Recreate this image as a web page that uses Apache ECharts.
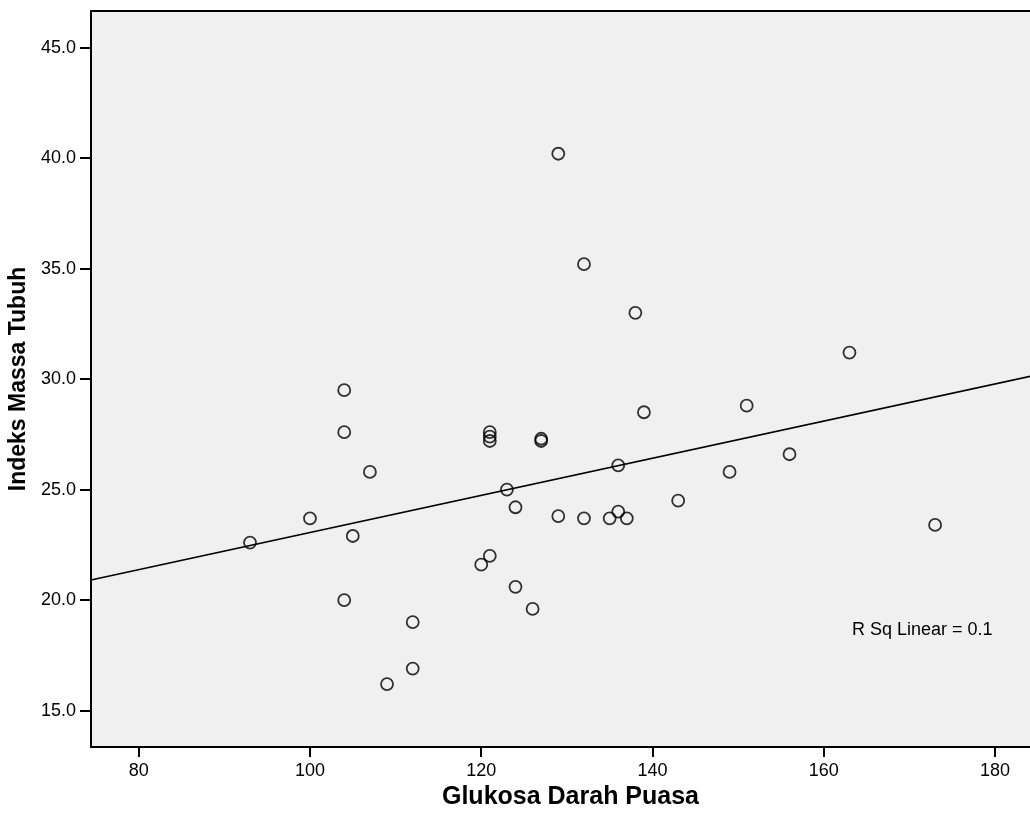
<html>
<head>
  <meta charset="utf-8">
  <title>Glukosa vs IMT</title>
  <script src="https://cdn.jsdelivr.net/npm/echarts@6/dist/echarts.min.js"></script>
</head>
<body style="margin:0;background:#fff;">
<div id="main" style="width:1030px;height:816px;"></div>
<script>
  // data
  var glukosa = [93, 100, 104, 104, 104, 105, 107, 109, 112, 112, 120, 121, 121, 121, 121, 123, 124, 124, 126, 127, 127,
    129, 129, 132, 132, 135, 136, 136, 137, 138, 139, 143, 149, 151, 156, 163, 173];
  var imt = [22.6, 23.7, 29.5, 27.6, 20.0, 22.9, 25.8, 16.2, 19.0, 16.9, 21.6, 22.0, 27.6, 27.4, 27.2, 25.0, 24.2, 20.6, 19.6, 27.3, 27.2,
    40.2, 23.8, 35.2, 23.7, 23.7, 26.1, 24.0, 23.7, 33.0, 28.5, 24.5, 25.8, 28.8, 26.6, 31.2, 23.4];
  var xTicks = [80, 100, 120, 140, 160, 180];
  var yTicks = [15, 20, 25, 30, 35, 40, 45];
  // fit line end points (linear fit, R Sq = 0.1)
  var fitX = [74.43, 186.42];
  var fitY = [20.91, 30.32];

  var points = glukosa.map(function (g, i) { return [g, imt[i]]; });
  var fitLine = fitX.map(function (x, i) { return [x, fitY[i]]; });

  var myChart = echarts.init(document.getElementById('main'));
  var option = {
    animation: false,
    grid: {
      left: 91, top: 11, right: -20, bottom: 69,
      outerBoundsMode: 'none',
      show: true,
      backgroundColor: '#f0f0f0',
      borderColor: '#000',
      borderWidth: 2
    },
    xAxis: {
      type: 'value',
      min: 74.43, max: 186.42,
      name: 'Glukosa Darah Puasa',
      nameLocation: 'middle',
      nameGap: 37,
      nameTextStyle: { color: '#000', fontSize: 25, fontWeight: 'bold', fontFamily: 'Liberation Sans, Arial' },
      axisLine: { lineStyle: { color: '#000', width: 2 } },
      axisTick: { show: true, length: 10, customValues: xTicks, lineStyle: { color: '#000', width: 2 } },
      axisLabel: { customValues: xTicks, margin: 15, color: '#000', fontSize: 18, fontFamily: 'Liberation Sans, Arial' },
      splitLine: { show: false }
    },
    yAxis: {
      type: 'value',
      min: 13.35, max: 46.66,
      name: 'Indeks Massa Tubuh',
      nameLocation: 'middle',
      nameGap: 55,
      nameTextStyle: { color: '#000', fontSize: 23, fontWeight: 'bold', fontFamily: 'Liberation Sans, Arial' },
      axisLine: { show: true, lineStyle: { color: '#000', width: 2 } },
      axisTick: { show: true, length: 11, customValues: yTicks, lineStyle: { color: '#000', width: 2 } },
      axisLabel: {
        customValues: yTicks, margin: 15, color: '#000', fontSize: 18, fontFamily: 'Liberation Sans, Arial',
        formatter: function (v) { return v.toFixed(1); }
      },
      splitLine: { show: false }
    },
    graphic: [{
      type: 'text',
      left: 852, top: 621,
      style: { text: 'R Sq Linear = 0.1', fill: '#000', fontSize: 18, fontFamily: 'Liberation Sans, Arial' }
    }],
    series: [
      {
        type: 'line',
        data: fitLine,
        showSymbol: false,
        lineStyle: { color: '#000', width: 1.6 },
        z: 1
      },
      {
        type: 'scatter',
        data: points,
        symbol: 'circle',
        symbolSize: 12,
        itemStyle: { color: 'rgba(0,0,0,0)', borderColor: '#000', borderWidth: 1.8 },
        z: 2
      }
    ]
  };
  myChart.setOption(option);
</script>
</body>
</html>
